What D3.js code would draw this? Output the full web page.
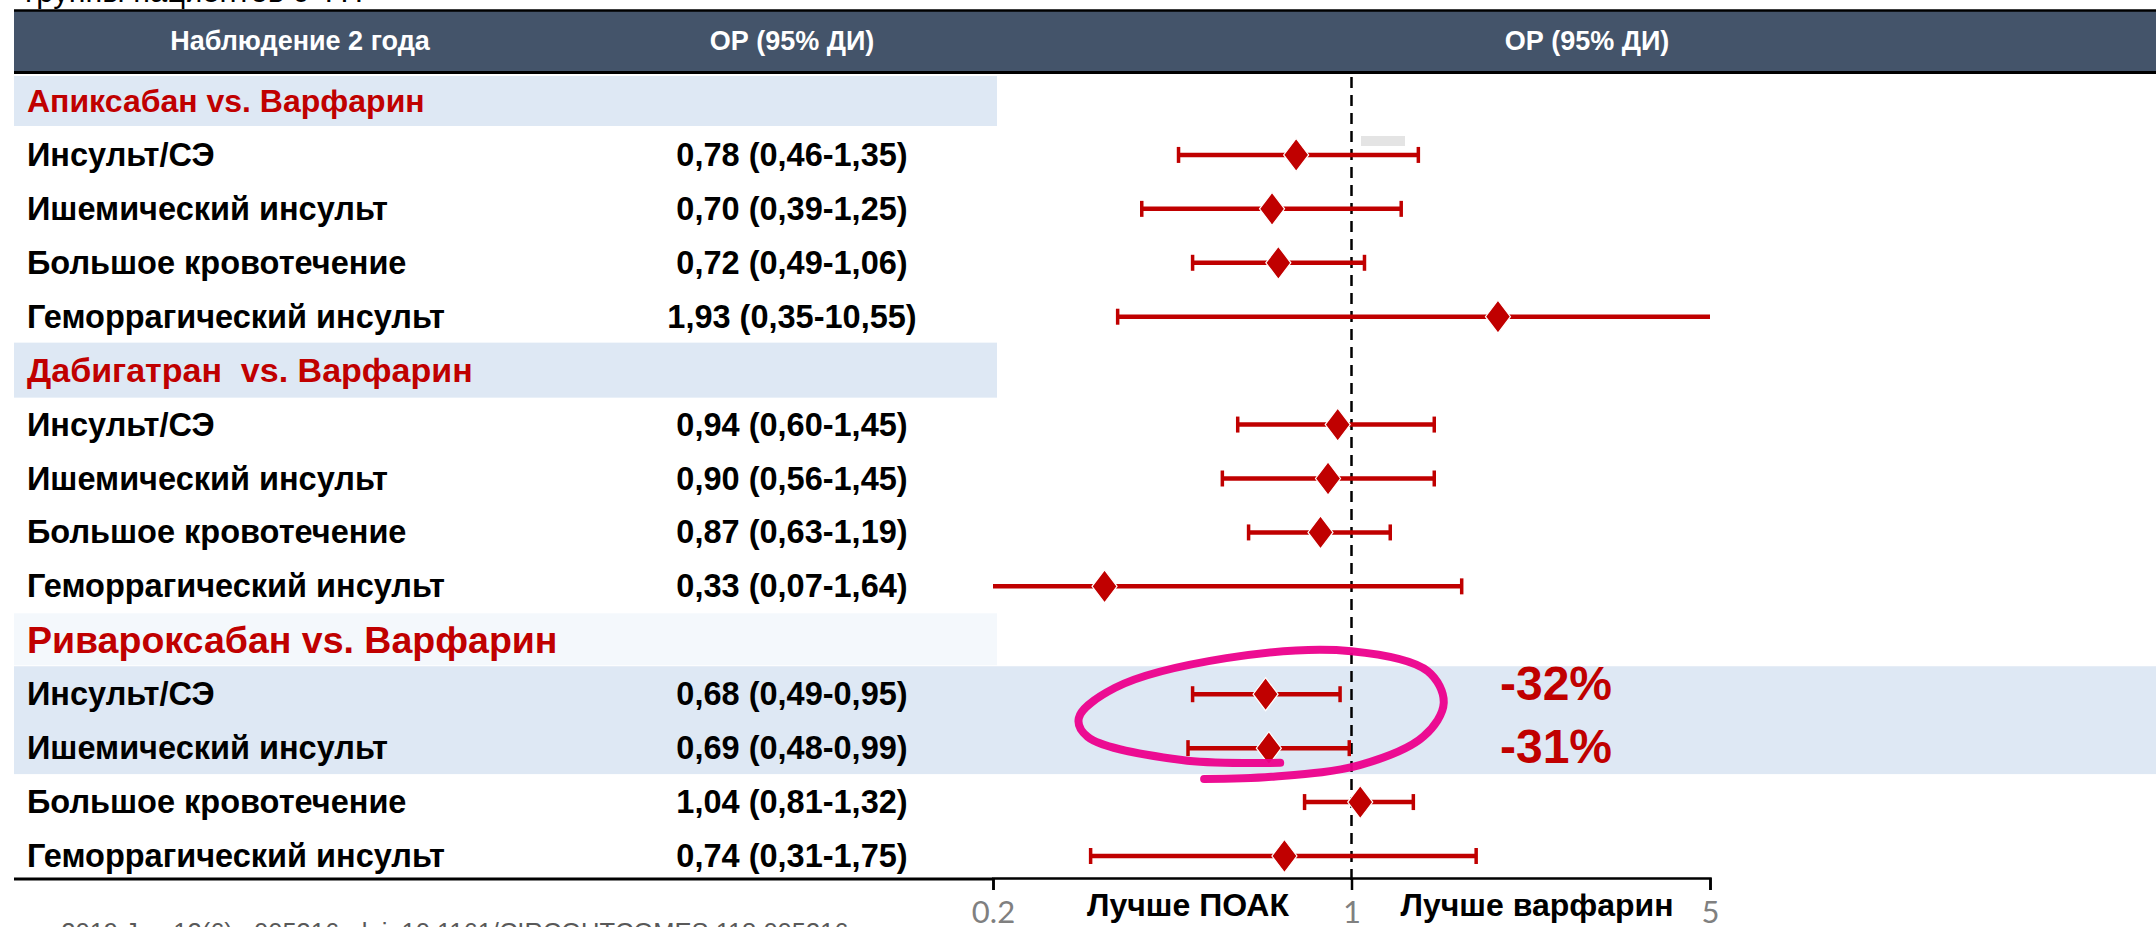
<!DOCTYPE html>
<html lang="ru">
<head>
<meta charset="utf-8">
<title>ОР (95% ДИ) — наблюдение 2 года</title>
<script src="https://cdn.jsdelivr.net/npm/d3@7"></script>
<style>
  html, body { margin: 0; padding: 0; background: #ffffff; }
  svg { display: block; }
  text { white-space: pre; }
</style>
</head>
<body>
<svg id="chart" width="2156" height="927"></svg>
<script>
// ---- data ----
const groups = ["Апиксабан vs. Варфарин", "Дабигатран  vs. Варфарин", "Ривароксабан vs. Варфарин"];
const outcomes = ["Инсульт/СЭ", "Ишемический инсульт", "Большое кровотечение", "Геморрагический инсульт"];
const hrValues = [
  [0.78, 0.70, 0.72, 1.93],
  [0.94, 0.90, 0.87, 0.33],
  [0.68, 0.69, 1.04, 0.74]
];
const ciLower = [
  [0.46, 0.39, 0.49, 0.35],
  [0.60, 0.56, 0.63, 0.07],
  [0.49, 0.48, 0.81, 0.31]
];
const ciUpper = [
  [1.35, 1.25, 1.06, 10.55],
  [1.45, 1.45, 1.19, 1.64],
  [0.95, 0.99, 1.32, 1.75]
];
const tickValues = [0.2, 1, 5];
const tickLabels = ["0.2", "1", "5"];
const headerLabels = ["Наблюдение 2 года", "ОР (95% ДИ)", "ОР (95% ДИ)"];
const sideLabels = ["Лучше ПОАК", "Лучше варфарин"];
// rows of the rivaroxaban block that are highlighted (indices into outcomes)
const highlighted = [0, 1];
// hand-drawn loop around the highlighted rows, in chart units: [ratio, row position]
const loopPoints = [
  [0.726, 12.29], [0.467, 12.24], [0.306, 11.81], [0.294, 11.46], [0.346, 10.90],
  [0.570, 10.35], [1.0, 10.22], [1.408, 10.59], [1.513, 11.18], [1.383, 11.80],
  [1.041, 12.33], [0.698, 12.55], [0.516, 12.59]
];
const topNote = "группы пациентов с ФП";
const citation = "– 2019 Jun;12(6):e005316. doi: 10.1161/CIRCOUTCOMES.118.005316";

// ---- layout ----
const W = 2156, H = 927;
const RED = "#C00000";
const svg = d3.select("#chart");

const x = d3.scaleLog().domain([0.2, 5]).range([993, 1710]);
const y = d3.scaleLinear().domain([0, 14]).range([100, 855]);
const step = y(1) - y(0);
const fmt = v => d3.format(".2f")(v).replace(".", ",");

// flatten table rows: group header followed by its four outcomes
const rows = [];
groups.forEach((g, gi) => {
  rows.push({ type: "group", label: g, gi });
  outcomes.forEach((o, oi) => {
    rows.push({ type: "item", label: o, gi, oi,
      hr: hrValues[gi][oi], lo: ciLower[gi][oi], hi: ciUpper[gi][oi] });
  });
});
rows.forEach((r, i) => r.i = i);

// ---- backgrounds ----
const bg = svg.append("g");
rows.filter(r => r.type === "group").forEach(r => {
  const big = r.gi === 2;
  bg.append("rect")
    .attr("x", 14).attr("width", 997 - 14)
    .attr("y", big ? y(r.i) - 26 : y(r.i) - (r.gi === 0 ? 24 : 27))
    .attr("height", big ? 52 : (r.gi === 0 ? 50 : 55))
    .attr("fill", big ? "#F4F8FC" : "#DEE8F4");
});
{
  const rI = rows.find(r => r.gi === 2 && r.oi === highlighted[0]).i;
  const rJ = rows.find(r => r.gi === 2 && r.oi === highlighted[highlighted.length - 1]).i;
  bg.append("rect")
    .attr("x", 14).attr("width", W - 14)
    .attr("y", y(rI) - step / 2).attr("height", y(rJ) - y(rI) + step)
    .attr("fill", "#DEE8F4");
}

// ---- header bar ----
svg.append("rect").attr("x", 14).attr("y", 11).attr("width", W - 14).attr("height", 61).attr("fill", "#44546A");
svg.append("line").attr("x1", 14).attr("x2", W).attr("y1", 10.5).attr("y2", 10.5).attr("stroke", "#000").attr("stroke-width", 2.5);
svg.append("line").attr("x1", 14).attr("x2", W).attr("y1", 72.5).attr("y2", 72.5).attr("stroke", "#000").attr("stroke-width", 3);
const headerX = [300, 792, 1587];
svg.selectAll("text.hdr").data(headerLabels).join("text")
  .attr("class", "hdr")
  .attr("x", (d, i) => headerX[i]).attr("y", 50)
  .attr("text-anchor", "middle")
  .attr("fill", "#fff")
  .style("font-family", "'Liberation Sans Narrow', 'Arial Narrow', sans-serif")
  .style("font-weight", "bold").style("font-size", "27px")
  .text(d => d);

// note line above the header (mostly outside the page)
svg.append("text").attr("x", 25).attr("y", 2)
  .style("font-family", "'Liberation Sans', Arial, sans-serif").style("font-size", "31px")
  .attr("fill", "#000").text(topNote);

// ---- table text ----
const table = svg.append("g").style("font-family", "'Liberation Sans', Arial, sans-serif").style("font-weight", "bold");
const groupFont = [32, 34, 37.5];
rows.forEach(r => {
  if (r.type === "group") {
    const fs = groupFont[r.gi];
    table.append("text").attr("x", 27).attr("y", y(r.i) + fs * 0.36)
      .attr("fill", RED).style("font-size", fs + "px").text(r.label);
  } else {
    table.append("text").attr("x", 27).attr("y", y(r.i) + 12)
      .attr("fill", "#000").style("font-size", "32.5px").text(r.label);
    table.append("text").attr("x", 792).attr("y", y(r.i) + 12).attr("text-anchor", "middle")
      .attr("fill", "#000").style("font-size", "32.5px")
      .text(`${fmt(r.hr)} (${fmt(r.lo)}-${fmt(r.hi)})`);
  }
});

// small grey marker beside the reference line
svg.append("rect").attr("x", 1361).attr("y", 136).attr("width", 44).attr("height", 10).attr("fill", "#E4E4E4");

// ---- reference line at 1 ----
svg.append("line")
  .attr("x1", x(1)).attr("x2", x(1)).attr("y1", 77).attr("y2", 880)
  .attr("stroke", "#000").attr("stroke-width", 2.5).attr("stroke-dasharray", "11 7");

// ---- axis ----
svg.append("line").attr("x1", 14).attr("x2", x(0.2)).attr("y1", 879).attr("y2", 879)
  .attr("stroke", "#000").attr("stroke-width", 3);
const axis = svg.append("g").attr("transform", "translate(0,878)")
  .call(d3.axisBottom(x).tickValues(tickValues).tickSize(12).tickSizeOuter(12).tickPadding(11)
    .tickFormat((d, i) => tickLabels[i]));
axis.select(".domain").attr("stroke", "#000").attr("stroke-width", 2.5);
axis.selectAll(".tick line").attr("stroke", "#000").attr("stroke-width", 2.5);
axis.selectAll(".tick text").attr("fill", "#808080")
  .style("font-family", "Lato, 'Open Sans', sans-serif").style("font-size", "31px");

const sideX = [1188, 1537];
svg.selectAll("text.side").data(sideLabels).join("text").attr("class", "side")
  .attr("x", (d, i) => sideX[i]).attr("y", 916).attr("text-anchor", "middle")
  .style("font-family", "'Liberation Sans', Arial, sans-serif").style("font-weight", "bold")
  .style("font-size", "32px").attr("fill", "#000").text(d => d);

// citation line along the bottom edge
svg.append("text").attr("x", 40).attr("y", 941)
  .style("font-family", "'Liberation Sans', Arial, sans-serif").style("font-size", "25.5px")
  .attr("fill", "#595959").text(citation);

// ---- error bars and point estimates ----
const [dMin, dMax] = x.domain();
const marks = svg.append("g");
rows.filter(r => r.type === "item").forEach(r => {
  const cy = y(r.i) + 1;
  const lo = Math.max(r.lo, dMin), hi = Math.min(r.hi, dMax);
  marks.append("line").attr("x1", x(lo)).attr("x2", x(hi)).attr("y1", cy).attr("y2", cy)
    .attr("stroke", RED).attr("stroke-width", 4.5);
  if (r.lo >= dMin) marks.append("line").attr("x1", x(r.lo)).attr("x2", x(r.lo))
    .attr("y1", cy - 8).attr("y2", cy + 8).attr("stroke", RED).attr("stroke-width", 3.5);
  if (r.hi <= dMax) marks.append("line").attr("x1", x(r.hi)).attr("x2", x(r.hi))
    .attr("y1", cy - 8).attr("y2", cy + 8).attr("stroke", RED).attr("stroke-width", 3.5);
  const px = x(r.hr), hw = 12.5, hh = 16.5;
  marks.append("path")
    .attr("d", `M${px},${cy - hh}L${px + hw},${cy}L${px},${cy + hh}L${px - hw},${cy}Z`)
    .attr("fill", RED).attr("stroke", "#fff").attr("stroke-width", 1.2);
});

// ---- highlight loop and risk reduction labels ----
svg.append("path")
  .datum(loopPoints)
  .attr("d", d3.line().x(d => x(d[0])).y(d => y(d[1])).curve(d3.curveCatmullRom.alpha(0.5)))
  .attr("fill", "none").attr("stroke", "#EC008C").attr("stroke-width", 8)
  .attr("stroke-linecap", "round").attr("stroke-linejoin", "round").attr("opacity", 0.95);

const labelOffsets = [7, 16];
highlighted.forEach((oi, k) => {
  const r = rows.find(d => d.gi === 2 && d.oi === oi);
  const pct = Math.round((r.hr - 1) * 100);
  svg.append("text").attr("x", 1556).attr("y", y(r.i) + labelOffsets[k]).attr("text-anchor", "middle")
    .style("font-family", "'Liberation Sans', Arial, sans-serif").style("font-weight", "bold")
    .style("font-size", "48px").attr("fill", RED).text(`${pct}%`);
});
</script>
</body>
</html>
